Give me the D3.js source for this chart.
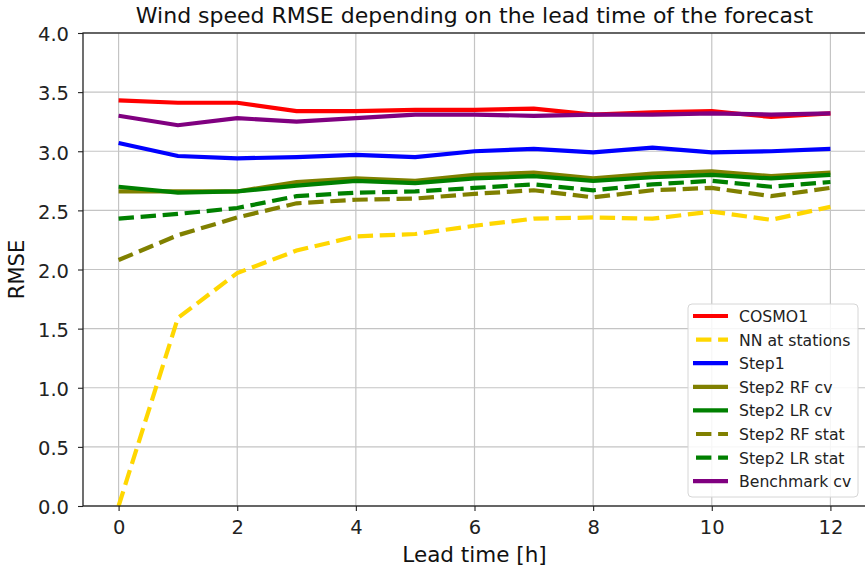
<!DOCTYPE html>
<html>
<head>
<meta charset="utf-8">
<script src="https://cdn.jsdelivr.net/npm/d3@7"></script>
<style>
  body { margin: 0; background: #fff; }
  svg { font-family: 'DejaVu Sans', sans-serif; }
</style>
</head>
<body>
<div id="chart"></div>
<script>
let leadTimes = [0, 1, 2, 3, 4, 5, 6, 7, 8, 9, 10, 11, 12]

let cosmo1 = [3.43, 3.41, 3.41, 3.34, 3.34, 3.35, 3.35, 3.36, 3.31, 3.33, 3.34, 3.29, 3.32]
let nnStations = [0.0, 1.59, 1.97, 2.16, 2.28, 2.3, 2.37, 2.43, 2.44, 2.43, 2.49, 2.42, 2.53]
let step1 = [3.07, 2.96, 2.94, 2.95, 2.97, 2.95, 3.0, 3.02, 2.99, 3.03, 2.99, 3.0, 3.02]
let step2RfCv = [2.66, 2.66, 2.66, 2.74, 2.77, 2.75, 2.8, 2.82, 2.77, 2.81, 2.83, 2.79, 2.82]
let step2LrCv = [2.7, 2.65, 2.66, 2.71, 2.75, 2.73, 2.77, 2.79, 2.75, 2.78, 2.8, 2.77, 2.8]
let step2RfStat = [2.08, 2.29, 2.44, 2.56, 2.59, 2.6, 2.64, 2.67, 2.61, 2.67, 2.69, 2.62, 2.69]
let step2LrStat = [2.43, 2.47, 2.52, 2.62, 2.65, 2.66, 2.69, 2.72, 2.67, 2.72, 2.75, 2.7, 2.74]
let benchmarkCv = [3.3, 3.22, 3.28, 3.25, 3.28, 3.31, 3.31, 3.3, 3.31, 3.31, 3.32, 3.31, 3.32]

let seriesNames = ['COSMO1', 'NN at stations', 'Step1', 'Step2 RF cv', 'Step2 LR cv', 'Step2 RF stat', 'Step2 LR stat', 'Benchmark cv']
let seriesValues = [cosmo1, nnStations, step1, step2RfCv, step2LrCv, step2RfStat, step2LrStat, benchmarkCv]
let seriesColors = ['#ff0000', '#ffd700', '#0000ff', '#808000', '#008000', '#808000', '#008000', '#800080']
let seriesDashed = [false, true, false, false, false, true, true, false]

let xTicks = [0, 2, 4, 6, 8, 10, 12]
let yTicks = [0, 0.5, 1, 1.5, 2, 2.5, 3, 3.5, 4]

let margin = { top: 33, left: 83, right: -1, bottom: 61 }
let width = 865 - margin.left - margin.right
let height = 567 - margin.top - margin.bottom

let svg = d3
  .select('#chart')
  .append('svg')
  .attr('width', 865)
  .attr('height', 567)
  .append('g')
  .attr('transform', 'translate(' + margin.left + ',' + margin.top + ')')

let xPositionScale = d3.scaleLinear().domain([-0.6, 12.6]).range([0, width])
let yPositionScale = d3.scaleLinear().domain([0, 4]).range([height, 0])

// grid
svg
  .append('g')
  .selectAll('line')
  .data(xTicks)
  .enter()
  .append('line')
  .attr('x1', d => xPositionScale(d))
  .attr('x2', d => xPositionScale(d))
  .attr('y1', 0)
  .attr('y2', height)
  .attr('stroke', '#c4c4c4')
  .attr('stroke-width', 1.2)

svg
  .append('g')
  .selectAll('line')
  .data(yTicks)
  .enter()
  .append('line')
  .attr('x1', 0)
  .attr('x2', width)
  .attr('y1', d => yPositionScale(d))
  .attr('y2', d => yPositionScale(d))
  .attr('stroke', '#c4c4c4')
  .attr('stroke-width', 1.2)

let line = d3
  .line()
  .x((d, i) => xPositionScale(leadTimes[i]))
  .y(d => yPositionScale(d))

svg
  .append('g')
  .selectAll('path')
  .data(seriesValues)
  .enter()
  .append('path')
  .attr('d', d => line(d))
  .attr('fill', 'none')
  .attr('stroke', (d, i) => seriesColors[i])
  .attr('stroke-width', 4.2)
  .attr('stroke-dasharray', (d, i) => (seriesDashed[i] ? '15.4,6.7' : null))

// axes
let xAxis = d3
  .axisBottom(xPositionScale)
  .tickValues(xTicks)
  .tickFormat(d3.format('d'))
  .tickSize(5)
  .tickPadding(9)
svg
  .append('g')
  .attr('class', 'axis x-axis')
  .attr('transform', 'translate(0,' + height + ')')
  .call(xAxis)

let yAxis = d3
  .axisLeft(yPositionScale)
  .tickValues(yTicks)
  .tickFormat(d3.format('.1f'))
  .tickSize(5)
  .tickPadding(9)
svg
  .append('g')
  .attr('class', 'axis y-axis')
  .call(yAxis)

svg.selectAll('.axis .domain').remove()
svg.selectAll('.axis line').attr('stroke', '#222').attr('stroke-width', 1.1)
svg
  .selectAll('.axis text')
  .attr('font-size', 19.5)
  .attr('fill', '#222')
  .attr('font-family', 'DejaVu Sans')
svg.selectAll('.y-axis text').attr('dy', '0.4em')

// spines
svg
  .append('rect')
  .attr('x', 0)
  .attr('y', 0)
  .attr('width', width)
  .attr('height', height)
  .attr('fill', 'none')
  .attr('stroke', '#222')
  .attr('stroke-width', 1.3)

svg
  .append('text')
  .attr('x', xPositionScale(6))
  .attr('y', -10)
  .attr('text-anchor', 'middle')
  .attr('font-size', 22)
  .attr('fill', '#111')
  .text('Wind speed RMSE depending on the lead time of the forecast')

svg
  .append('text')
  .attr('x', xPositionScale(6))
  .attr('y', height + 56)
  .attr('text-anchor', 'middle')
  .attr('font-size', 21.5)
  .attr('fill', '#111')
  .text('Lead time [h]')

svg
  .append('text')
  .attr('transform', 'translate(' + (-59) + ',' + yPositionScale(2) + ') rotate(-90)')
  .attr('text-anchor', 'middle')
  .attr('font-size', 21)
  .attr('fill', '#111')
  .text('RMSE')

// legend
let legend = svg
  .append('g')
  .attr('transform', 'translate(' + (688 - margin.left) + ',' + (304 - margin.top) + ')')

legend
  .append('rect')
  .attr('width', 170)
  .attr('height', 193)
  .attr('rx', 4)
  .attr('fill', 'rgba(255,255,255,0.85)')
  .attr('stroke', '#d6d6d6')
  .attr('stroke-width', 1)

let items = legend
  .selectAll('.item')
  .data(seriesNames)
  .enter()
  .append('g')
  .attr('class', 'item')
  .attr('transform', (d, i) => 'translate(0,' + (12 + i * 23.6) + ')')

items
  .append('line')
  .attr('x1', 5)
  .attr('x2', 40)
  .attr('y1', 0)
  .attr('y2', 0)
  .attr('stroke', (d, i) => seriesColors[i])
  .attr('stroke-width', 4.2)
  .attr('stroke-dasharray', (d, i) => (seriesDashed[i] ? '15.4,6.7' : null))
  .attr('stroke-dashoffset', (d, i) => (seriesDashed[i] ? -3 : null))

items
  .append('text')
  .attr('x', 51)
  .attr('y', 6)
  .attr('font-size', 15.7)
  .attr('fill', '#222')
  .text(d => d)
</script>
</body>
</html>
